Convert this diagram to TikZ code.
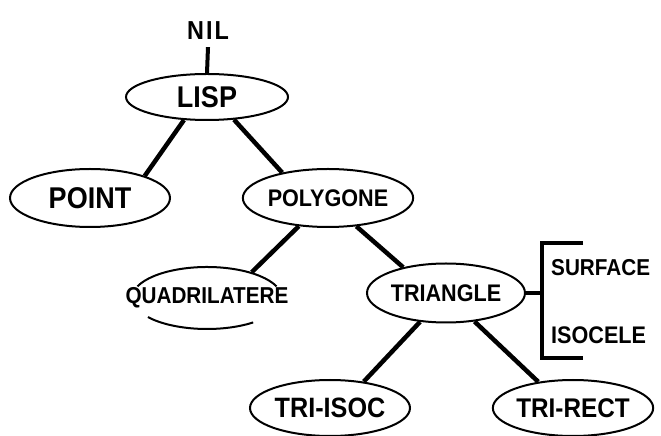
\documentclass[tikz,border=0pt]{standalone}
\usepackage{fontspec}
\setmainfont{Liberation Sans}[FakeStretch=0.9]
\usepackage{tikz}
\usetikzlibrary{shapes.geometric}

\tikzset{
  cls/.style={ellipse,draw,line width=2pt,inner sep=0pt},
  lnk/.style={line width=4.5pt},
}

\begin{document}
\begin{tikzpicture}[x=1pt,y=1pt,font=\bfseries]
\useasboundingbox (0,0) rectangle (661,436);
\node[font=\bfseries\fontsize{26}{28}\selectfont,inner sep=7pt] at (208,405) (nil){N\kern2pt I\kern2pt L};
  \node[cls,minimum width=162pt,minimum height=46pt,font=\bfseries\fontsize{30}{32}\selectfont] at (207,339) (lisp){LISP};
  \node[cls,minimum width=160pt,minimum height=58pt,font=\bfseries\fontsize{30}{32}\selectfont] at (90,238) (point){POINT};
  \node[cls,minimum width=157pt,minimum height=58pt,font=\bfseries\fontsize{24}{26}\selectfont] at (328,238) (poly){POLYGONE};
  \node[cls,draw=none,minimum width=150pt,minimum height=62pt,font=\bfseries\fontsize{23}{25}\selectfont] at (207,138) (quad){\makebox[0pt]{QUADRILATERE}};
  \node[cls,minimum width=158pt,minimum height=59pt,font=\bfseries\fontsize{24}{26}\selectfont] at (446,143) (tri){TRIANGLE};
  \node[cls,minimum width=160pt,minimum height=56pt,font=\bfseries\fontsize{28}{30}\selectfont] at (330,28) (triisoc){TRI-ISOC};
  \node[cls,minimum width=160pt,minimum height=56pt,font=\bfseries\fontsize{27}{29}\selectfont] at (573,28) (trirect){TRI-RECT};

  % open ellipse round QUADRILATERE
  \draw[line width=2pt] ([shift={(158:75pt and 31pt)}]quad.center) arc[start angle=158,end angle=22,x radius=75pt,y radius=31pt];
  \draw[line width=2pt] ([shift={(218:75pt and 31pt)}]quad.center) arc[start angle=218,end angle=308,x radius=75pt,y radius=31pt];

  \draw [lnk,line width=4pt] (nil.south) -- (lisp.north);
  \draw [lnk] (lisp.-135) -- (point.22);
  \draw [lnk] (lisp.-40) -- (poly.151);
  \draw [lnk] (poly.-136) -- (quad.30);
  \draw [lnk] (poly.-45) -- (tri.149);
  \draw [lnk] (tri.-132) -- (triisoc.38);
  \draw [lnk] (tri.-45) -- (trirect.143);

  % slots of TRIANGLE
  \coordinate (brk) at (542,143);
  \coordinate (brktop) at (542,193);
  \coordinate (brkbot) at (542,78);
  \node[anchor=west,font=\bfseries\fontsize{23}{25}\selectfont,inner sep=0pt] at (551,168) (surf){SURFACE};
  \node[anchor=west,font=\bfseries\fontsize{24}{26}\selectfont,inner sep=0pt] at (551,101) (isoc){ISOCELE};
  \draw [line width=3.5pt] (tri.east) -- (brk);
  \draw [line width=3.5pt] ([xshift=41pt]brktop) -- (brktop) -- (brkbot) -- ([xshift=41pt]brkbot);

  \end{tikzpicture}
\end{document}
